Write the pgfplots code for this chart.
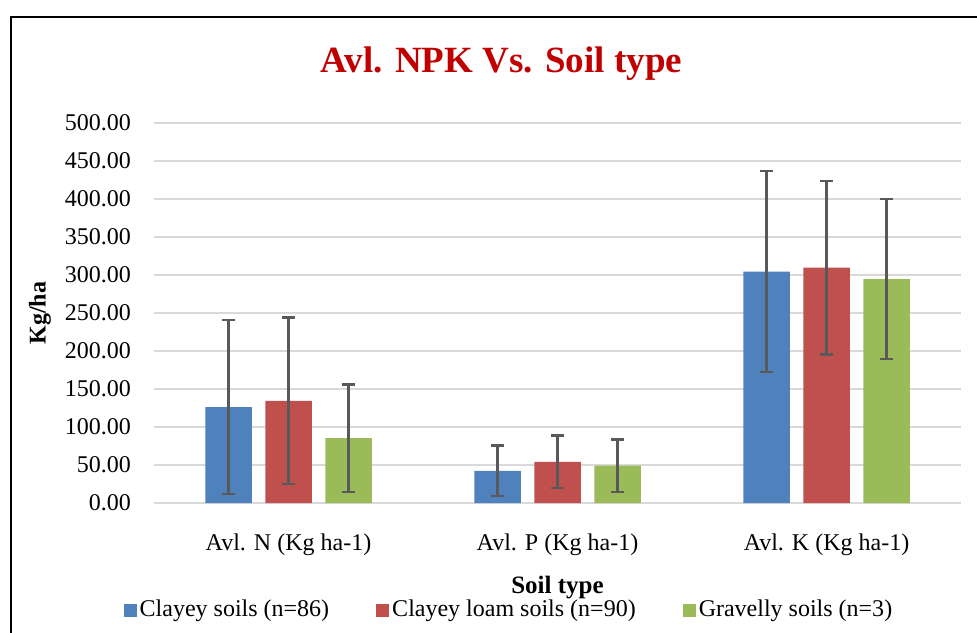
\documentclass[border=0pt]{standalone}
\usepackage{fontspec}
\setmainfont{Liberation Serif}
\usepackage{pgfplots}
\pgfplotsset{compat=1.18}
\definecolor{cblue}{HTML}{4F81BD}
\definecolor{cred}{HTML}{C0504D}
\definecolor{cgreen}{HTML}{9BBB59}
\definecolor{errc}{HTML}{595959}
\definecolor{gridc}{HTML}{D9D9D9}
\definecolor{titlec}{HTML}{C00000}

% x  mean  sd
\pgfplotstableread{
x y e
0 126.3 114.5
1 42.3 33.0
2 304.5 132.3
}\clayey
\pgfplotstableread{
x y e
0 134.5 109.3
1 54.0 34.5
2 309.8 114.0
}\clayeyloam
\pgfplotstableread{
x y e
0 85.5 70.8
1 49.1 34.7
2 294.7 105.3
}\gravelly

\begin{document}
\begin{tikzpicture}
\useasboundingbox (0pt,0pt) rectangle (488.5pt,-316pt);
\draw[line width=1pt] (5.5pt,-320pt) -- (5.5pt,-8.5pt) -- (492pt,-8.5pt);
\begin{axis}[
    at={(77pt,-251.5pt)}, anchor=south west,
    width=403.5pt, height=190pt, scale only axis,
    ybar, bar width=23.25pt,
    xmin=-0.5, xmax=2.5, ymin=0, ymax=500,
    xtick={0,1,2},
    xticklabels={Avl. N (Kg ha-1), Avl. P (Kg ha-1), Avl. K (Kg ha-1)},
    ytick={0,50,...,500},
    major tick length=0pt,
    axis line style={draw=none},
    ymajorgrids, grid style={gridc, line width=0.75pt},
    /pgf/number format/.cd, fixed, fixed zerofill, precision=2, assume math mode=true,
    /pgfplots/.cd,
    ticklabel style={font=\fontsize{12}{14}\selectfont},
    yticklabel style={anchor=east, xshift=-8pt},
    xticklabel style={anchor=base, yshift=-23.5pt},
    title={Avl. NPK Vs. Soil type},
    title style={font=\fontsize{18.5}{22}\selectfont\bfseries, text=titlec,
        at={(rel axis cs:0.4306,1.124)}, anchor=center},
    xlabel={Soil type},
    xlabel style={font=\fontsize{12.5}{14}\selectfont\bfseries,
        at={(rel axis cs:0.5,-0.238)}, anchor=base},
    ylabel={Kg/ha},
    ylabel style={font=\fontsize{12}{14}\selectfont\bfseries,
        at={(rel axis cs:-0.1413,0.5)}, anchor=center},
    legend image code/.code={\fill[#1] (0pt,-3.25pt) rectangle (6.5pt,3.25pt);},
    legend columns=3,
    legend style={draw=none, fill=none, font=\fontsize{12}{14}\selectfont,
        at={(rel axis cs:0.4405,-0.2816)}, anchor=center,
        nodes={inner sep=1.5pt},
        /tikz/every even column/.append style={column sep=22pt}},
    error bars/y dir=both, error bars/y explicit,
    error bars/error bar style={errc, line width=1.3pt},
    error bars/error mark options={rotate=90, mark size=3.2pt, line width=1.3pt, errc},
]
\addplot[fill=cblue, draw=none, bar shift=-30pt] table[x=x, y=y, y error=e] {\clayey};
\addlegendentry{Clayey soils (n=86)}
\addplot[fill=cred, draw=none, bar shift=0pt] table[x=x, y=y, y error=e] {\clayeyloam};
\addlegendentry{Clayey loam soils (n=90)}
\addplot[fill=cgreen, draw=none, bar shift=30pt] table[x=x, y=y, y error=e] {\gravelly};
\addlegendentry{Gravelly soils (n=3)}
\end{axis}
\end{tikzpicture}
\end{document}
